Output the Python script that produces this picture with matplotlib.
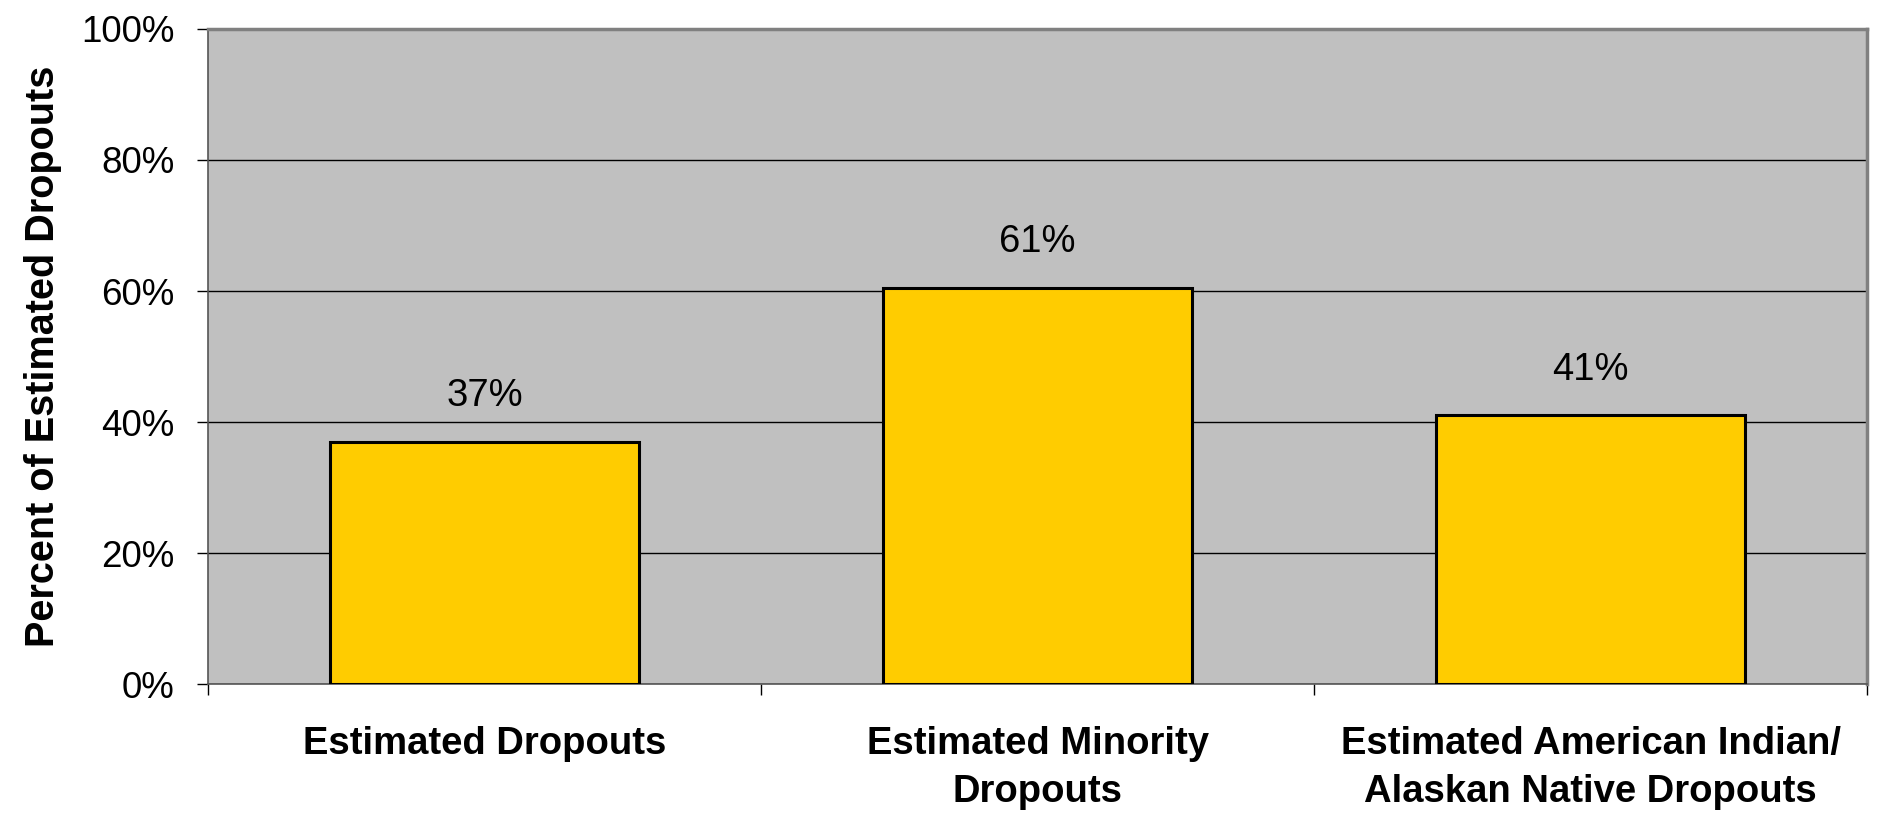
import matplotlib
matplotlib.use("Agg")
import matplotlib.pyplot as plt
from matplotlib.ticker import FixedLocator, NullFormatter

categories = ["Estimated Dropouts", "Estimated Minority\nDropouts",
              "Estimated American Indian/\nAlaskan Native Dropouts"]
values = [0.37, 0.605, 0.41]
value_labels = ["37%", "61%", "41%"]
y_ticks = [0, 0.2, 0.4, 0.6, 0.8, 1.0]
y_tick_labels = ["0%", "20%", "40%", "60%", "80%", "100%"]

plt.rcParams['font.family'] = ['Liberation Sans', 'DejaVu Sans']

fig = plt.figure(figsize=(18.83, 8.19), dpi=100)
ax = fig.add_axes([0.1105, 0.1648, 0.8810, 0.7998])
ax.set_facecolor("#C0C0C0")

x = list(range(len(categories)))
ax.bar(x, values, width=0.56, color="#FFCC00", edgecolor="black", linewidth=2.2, zorder=3)

for xi, v, lab in zip(x, values, value_labels):
    ax.text(xi, v + 0.07, lab, ha="center", va="center", fontsize=27.5, zorder=4)

ax.set_xlim(-0.5, len(categories) - 0.5)
ax.set_ylim(0, 1.0)
ax.set_yticks(y_ticks)
ax.set_yticklabels(y_tick_labels, fontsize=26.5)
ax.yaxis.grid(True, color="black", linewidth=1.0, zorder=1)
ax.set_axisbelow(True)

ax.xaxis.set_major_locator(FixedLocator([-0.5, 0.5, 1.5, 2.5]))
ax.xaxis.set_major_formatter(NullFormatter())
ax.xaxis.set_minor_locator(FixedLocator(x))
ax.set_xticklabels(categories, minor=True, fontsize=27.5, fontweight="bold", linespacing=1.45)
ax.tick_params(axis="x", which="minor", length=0, pad=30)
ax.tick_params(axis="x", which="major", length=8, width=1.0, color="black")
ax.tick_params(axis="y", which="major", length=8, width=1.0, color="black", pad=16)

ax.set_ylabel("Percent of Estimated Dropouts", fontsize=28.5, fontweight="bold", labelpad=14)

for side in ["left", "bottom"]:
    ax.spines[side].set_color("#555555")
    ax.spines[side].set_linewidth(1.2)
for side in ["top", "right"]:
    ax.spines[side].set_color("#808080")
    ax.spines[side].set_linewidth(2.5)

fig.savefig("out.png", dpi=100)
